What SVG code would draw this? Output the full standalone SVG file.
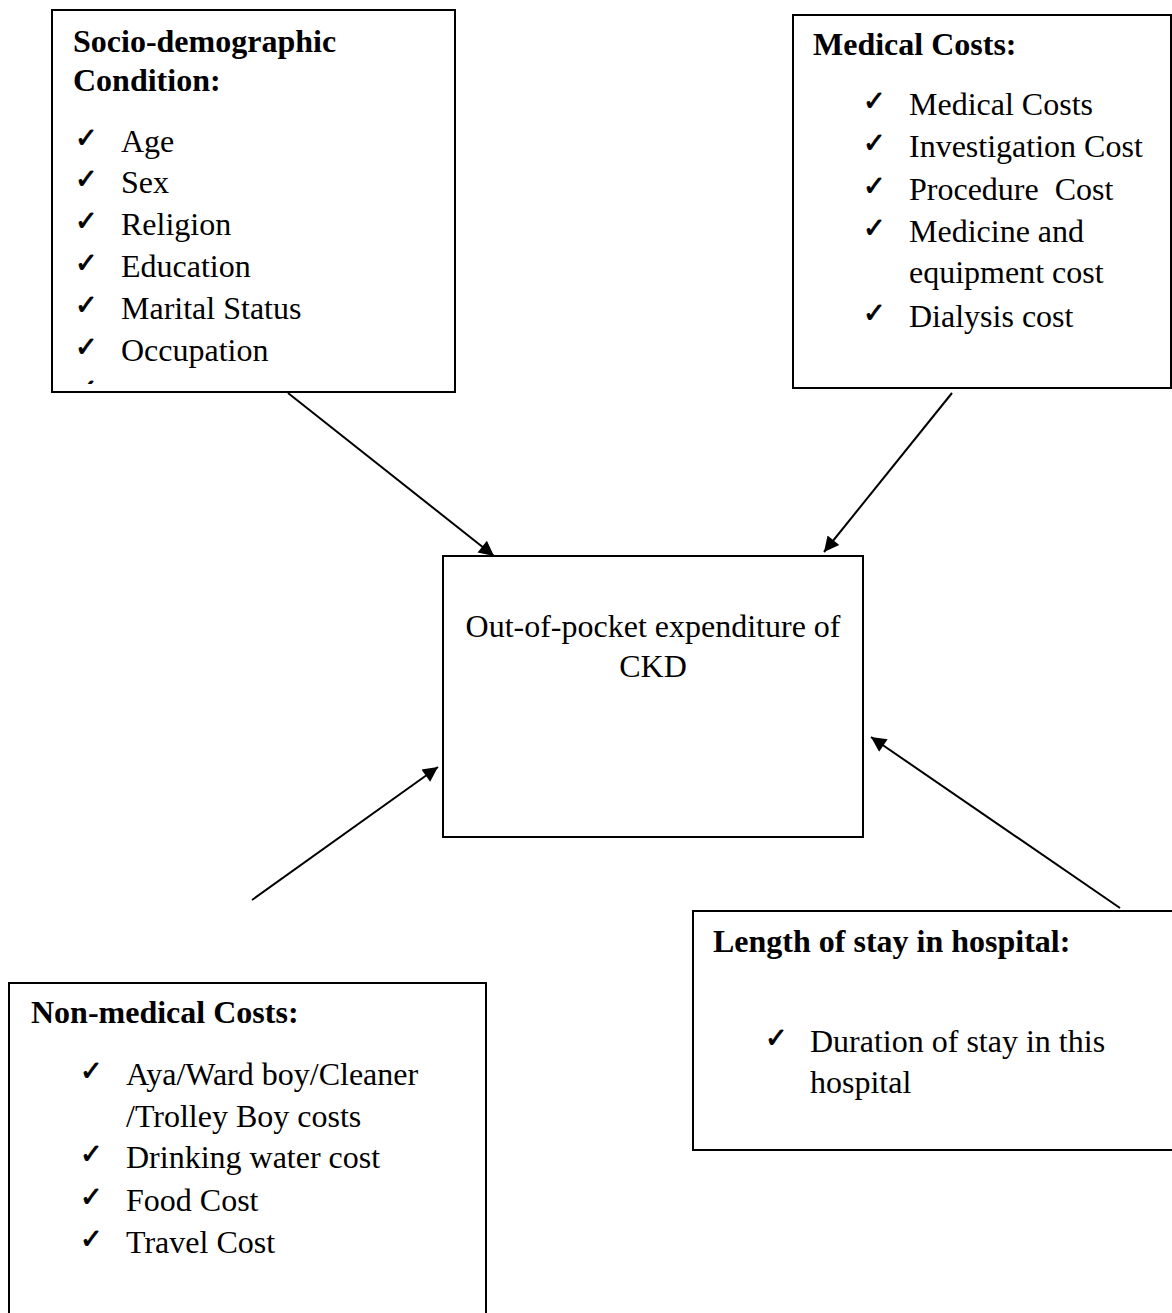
<svg xmlns="http://www.w3.org/2000/svg" width="1172" height="1313" viewBox="0 0 1172 1313">
<style>
.box{fill:#fff;stroke:#000;stroke-width:2}
.t{font-family:"Liberation Serif","Times New Roman",serif;font-size:32px;fill:#000}
.b{font-weight:bold}
.ck{font-family:"DejaVu Sans",sans-serif;font-size:27px;fill:#000;stroke:#000;stroke-width:0.9}
.con{stroke:#000;stroke-width:2;fill:none;marker-end:url(#ah)}
</style>
<defs>
<marker id="ah" viewBox="0 0 10 10" refX="10" refY="5" markerWidth="19" markerHeight="15" markerUnits="userSpaceOnUse" orient="auto">
<path d="M0,0 L10,5 L0,10 z" fill="#000"/>
</marker>
<clipPath id="c1"><rect x="52" y="10" width="403" height="374"/></clipPath>
</defs>
<rect width="1172" height="1313" fill="#fff"/>
<g id="socio">
<rect class="box" x="52" y="10" width="403" height="382"/>
<text class="t b" x="73" y="52">Socio-demographic</text>
<text class="t b" x="73" y="91">Condition:</text>
<text class="ck" x="75" y="147">✓</text><text class="t" x="121" y="152">Age</text>
<text class="ck" x="75" y="188">✓</text><text class="t" x="121" y="193">Sex</text>
<text class="ck" x="75" y="230">✓</text><text class="t" x="121" y="235">Religion</text>
<text class="ck" x="75" y="272">✓</text><text class="t" x="121" y="277">Education</text>
<text class="ck" x="75" y="314">✓</text><text class="t" x="121" y="319">Marital Status</text>
<text class="ck" x="75" y="356">✓</text><text class="t" x="121" y="361">Occupation</text>
<text class="ck" x="75" y="398" clip-path="url(#c1)">✓</text>
</g>
<g id="medical">
<rect class="box" x="793" y="15" width="378" height="373"/>
<text class="t b" x="813" y="55">Medical Costs:</text>
<text class="ck" x="863" y="110">✓</text><text class="t" x="909" y="115">Medical Costs</text>
<text class="ck" x="863" y="152">✓</text><text class="t" x="909" y="157">Investigation Cost</text>
<text class="ck" x="863" y="195">✓</text><text class="t" x="909" y="200" xml:space="preserve">Procedure  Cost</text>
<text class="ck" x="863" y="237">✓</text><text class="t" x="909" y="242">Medicine and</text>
<text class="t" x="909" y="283">equipment cost</text>
<text class="ck" x="863" y="322">✓</text><text class="t" x="909" y="327">Dialysis cost</text>
</g>
<g id="center">
<rect class="box" x="443" y="556" width="420" height="281"/>
<text class="t" x="653" y="637" text-anchor="middle">Out-of-pocket expenditure of</text>
<text class="t" x="653" y="677" text-anchor="middle">CKD</text>
</g>
<g id="nonmedical">
<rect class="box" x="9" y="983" width="477" height="340"/>
<text class="t b" x="31" y="1023">Non-medical Costs:</text>
<text class="ck" x="80" y="1080">✓</text><text class="t" x="126" y="1085">Aya/Ward boy/Cleaner</text>
<text class="t" x="126" y="1127">/Trolley Boy costs</text>
<text class="ck" x="80" y="1163">✓</text><text class="t" x="126" y="1168">Drinking water cost</text>
<text class="ck" x="80" y="1206">✓</text><text class="t" x="126" y="1211">Food Cost</text>
<text class="ck" x="80" y="1248">✓</text><text class="t" x="126" y="1253">Travel Cost</text>
</g>
<g id="stay">
<rect class="box" x="693" y="911" width="480" height="239"/>
<text class="t b" x="713" y="952">Length of stay in hospital:</text>
<text class="ck" x="765" y="1047">✓</text><text class="t" x="810" y="1052">Duration of stay in this</text>
<text class="t" x="810" y="1093">hospital</text>
</g>
<g id="connectors">
<line class="con" x1="288" y1="393" x2="494" y2="556"/>
<line class="con" x1="952" y1="393" x2="824" y2="552"/>
<line class="con" x1="252" y1="900" x2="438" y2="767"/>
<line class="con" x1="1120" y1="908" x2="871" y2="737"/>
</g>
</svg>
